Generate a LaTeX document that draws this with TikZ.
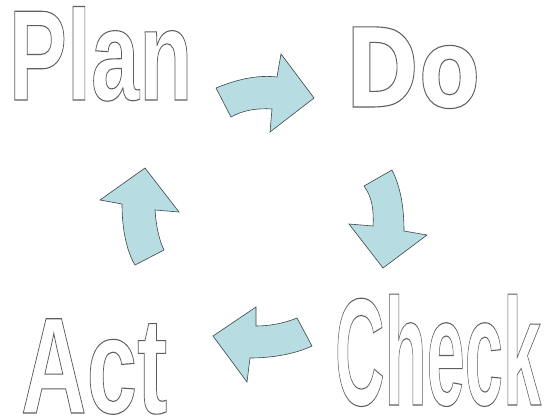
\documentclass[tikz,border=0pt]{standalone}
\usepackage{fontspec}
\newfontfamily\wordfont{Liberation Sans}
\newfontfamily\roundfont{DejaVu Sans}
\definecolor{arrowfill}{RGB}{183,221,226}
\definecolor{arrowline}{RGB}{60,70,72}
\definecolor{txtline}{RGB}{95,95,95}
\newcommand\outlined[1]{{\color{txtline}\special{pdf:literal 1 Tr 1.1 w}#1\special{pdf:literal 0 Tr}}}
\tikzset{
  word/.style={inner sep=0pt, outer sep=0pt, anchor=base west},
  blockarrow/.style={fill=arrowfill, draw=arrowline, line width=0.6pt, line join=miter}
}
\begin{document}
\begin{tikzpicture}[x=1pt,y=-1pt]
\useasboundingbox (0,0) rectangle (551,418);
\fill[white] (0,0) rectangle (551,418);
% words
\node[word] (plan) at (9,100) {\scalebox{0.673}[1]{\outlined{\wordfont\bfseries\fontsize{129}{129}\selectfont Plan}}};
\node[word] (do) at (345,107) {\scalebox{0.81}[1]{\outlined{\roundfont\bfseries\fontsize{110}{110}\selectfont Do}}};
\node[word] (check) at (335,405) {\scalebox{0.449}[1]{\outlined{\wordfont\bfseries\fontsize{153}{153}\selectfont Check}}};
\node[word] (act) at (21,413) {\scalebox{0.663}[1]{\outlined{\wordfont\bfseries\fontsize{137}{137}\selectfont Act}}};
% arrows
\draw[blockarrow] (216,88) .. controls (240,78) and (260,75) .. (277,77) -- (281,54) -- (314,98) -- (270,132) -- (272,109)
  .. controls (258,108) and (243,110) .. (231,117) -- cycle;
\draw[blockarrow] (364,186) -- (392,170) .. controls (398,182) and (404,200) .. (404,231) -- (427,235) -- (383,268) -- (349,224) -- (373,226)
  .. controls (374,210) and (372,197) .. cycle;
\draw[blockarrow] (213,336) -- (256,307) -- (256,326) .. controls (270,326) and (285,323) .. (297,318) -- (312,346)
  .. controls (295,354) and (272,358) .. (250,358) -- (247,382) -- cycle;
\draw[blockarrow] (145,168) -- (179,212) -- (155,210) .. controls (156,225) and (159,240) .. (164,250) -- (135,265)
  .. controls (127,252) and (122,230) .. (122,204) -- (100,200) -- cycle;
\end{tikzpicture}
\end{document}
